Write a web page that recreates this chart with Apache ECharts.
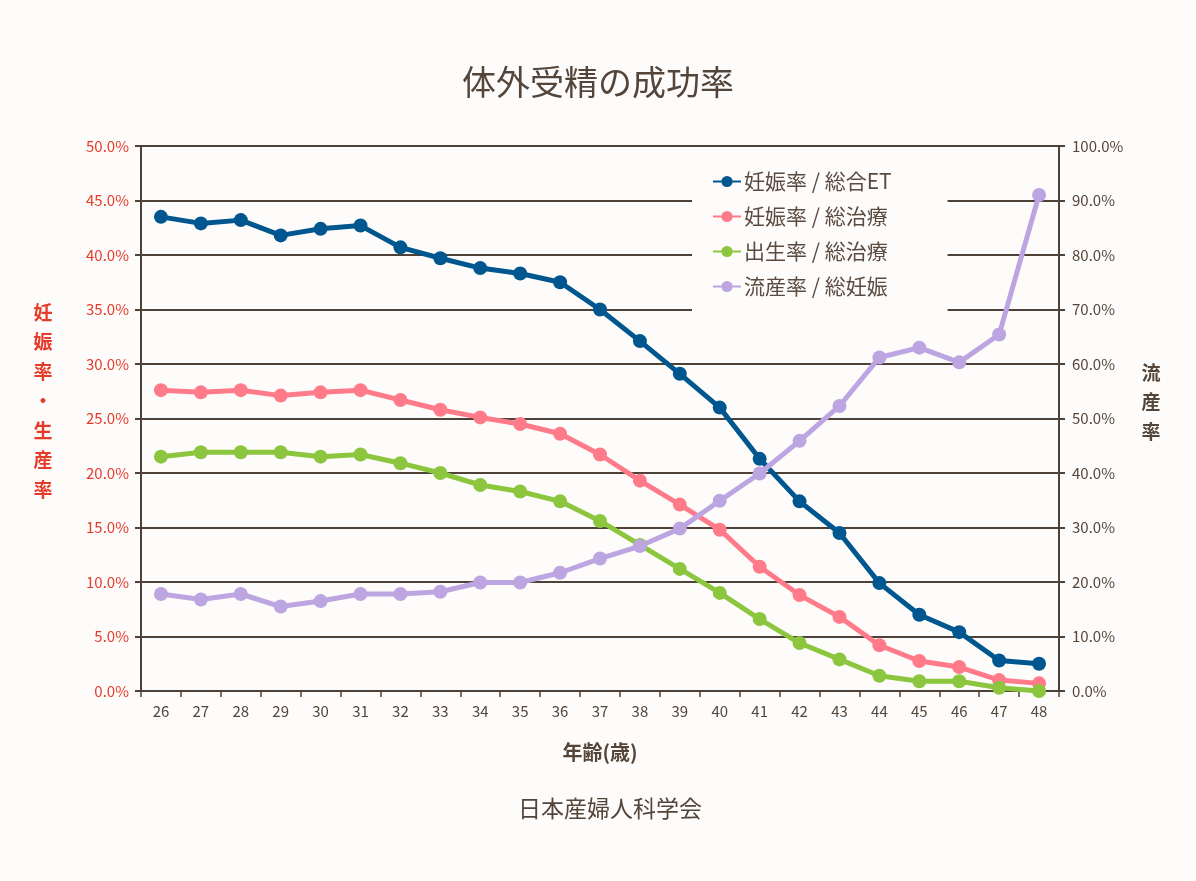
<!DOCTYPE html>
<html>
<head>
<meta charset="utf-8">
<script src="https://cdn.jsdelivr.net/npm/echarts@6/dist/echarts.min.js"></script>
<style>
html,body{margin:0;padding:0;background:#fdfcfa;}
#chart{width:1196px;height:881px;}
</style>
</head>
<body>
<div id="chart"></div>
<script>
const ages = ['26','27','28','29','30','31','32','33','34','35','36','37','38','39','40','41','42','43','44','45','46','47','48'];
const pregnancyPerET = [43.5,42.9,43.2,41.8,42.4,42.7,40.7,39.7,38.8,38.3,37.5,35.0,32.1,29.1,26.0,21.3,17.4,14.5,9.9,7.0,5.4,2.8,2.5];
const pregnancyPerTreatment = [27.6,27.4,27.6,27.1,27.4,27.6,26.7,25.8,25.1,24.5,23.6,21.7,19.3,17.1,14.8,11.4,8.8,6.8,4.2,2.75,2.2,1.0,0.7];
const birthPerTreatment = [21.5,21.9,21.9,21.9,21.5,21.7,20.9,20.0,18.9,18.3,17.4,15.6,13.4,11.2,9.0,6.6,4.4,2.9,1.4,0.9,0.9,0.3,0.0];
const miscarriagePerPregnancy = [17.8,16.8,17.8,15.5,16.5,17.8,17.8,18.2,19.9,19.9,21.7,24.3,26.6,29.8,34.9,39.9,45.9,52.3,61.2,63.0,60.3,65.4,91.0];
const seriesNames = ['妊娠率 / 総合ET','妊娠率 / 総治療','出生率 / 総治療','流産率 / 総妊娠'];
const leftTicks = {min:0, max:50, interval:5};
const rightTicks = {min:0, max:100, interval:10};

const FONT = '"Noto Sans CJK JP", "Noto Sans", sans-serif';
const BROWN = '#54453a';
const RED = '#e63a2a';
const GRID = '#4e4137';
const colors = ['#00578f','#ff7b8a','#8cc63f','#bca5e0'];

const chart = echarts.init(document.getElementById('chart'));
function mk(name, data, color, yIdx){
  return {
    name: name, type:'line', data: data, yAxisIndex: yIdx,
    symbol:'circle', symbolSize:14, showSymbol:true,
    lineStyle:{width:5, color:color}, itemStyle:{color:color},
    emphasis:{disabled:true}, z: 3
  };
}
chart.setOption({
  backgroundColor:'#fdfcfa',
  animation:false,
  textStyle:{fontFamily:FONT},
  title:{
    text:'体外受精の成功率', left:'center', top:60,
    textStyle:{fontFamily:FONT, fontSize:34, fontWeight:'normal', color:BROWN}
  },
  grid:{left:141, right:137, top:146, bottom:190, containLabel:false},
  legend:{
    orient:'vertical', left:692, top:163,
    padding:[8,56,22,20],
    backgroundColor:'#fdfcfa',
    itemWidth:28, itemHeight:14, itemGap:14,
    textStyle:{fontFamily:FONT, fontSize:21, color:'#5a4a40', padding:[0,0,0,-2]},
    data: seriesNames,
    z: 10
  },
  xAxis:{
    type:'category', data: ages, boundaryGap:true,
    axisLine:{lineStyle:{color:GRID, width:2}},
    axisTick:{show:true, interval:0, length:6, lineStyle:{color:GRID, width:1.5}},
    axisLabel:{color:BROWN, fontSize:15, margin:13, interval:0, fontFamily:FONT},
    name:'年齢(歳)', nameLocation:'middle', nameGap:51,
    nameTextStyle:{color:BROWN, fontSize:20, fontWeight:'bold', fontFamily:FONT}
  },
  yAxis:[
    {
      type:'value', min:leftTicks.min, max:leftTicks.max, interval:leftTicks.interval, position:'left',
      axisLine:{show:true, lineStyle:{color:GRID, width:2}},
      axisTick:{show:true, length:6, lineStyle:{color:GRID, width:2}},
      axisLabel:{color:RED, fontSize:15, margin:12, fontFamily:FONT, formatter: v => v.toFixed(1)+'%'},
      splitLine:{show:true, lineStyle:{color:GRID, width:2}}
    },
    {
      type:'value', min:rightTicks.min, max:rightTicks.max, interval:rightTicks.interval, position:'right',
      axisLine:{show:true, lineStyle:{color:GRID, width:2}},
      axisTick:{show:true, length:6, lineStyle:{color:GRID, width:2}},
      axisLabel:{color:BROWN, fontSize:15, margin:13, fontFamily:FONT, formatter: v => v.toFixed(1)+'%'},
      splitLine:{show:false}
    }
  ],
  series:[
    mk(seriesNames[0], pregnancyPerET, colors[0], 0),
    mk(seriesNames[1], pregnancyPerTreatment, colors[1], 0),
    mk(seriesNames[2], birthPerTreatment, colors[2], 0),
    mk(seriesNames[3], miscarriagePerPregnancy, colors[3], 1)
  ],
  graphic:[
    {type:'text', x:43, y:401, style:{text:'妊\n娠\n率\n・\n生\n産\n率', fill:RED, font:'bold 19px '+FONT, lineHeight:29.5, textAlign:'center', textVerticalAlign:'middle'}},
    {type:'text', x:1151, y:402, style:{text:'流\n産\n率', fill:BROWN, font:'bold 19px '+FONT, lineHeight:29.5, textAlign:'center', textVerticalAlign:'middle'}},
    {type:'text', x:610, y:808, style:{text:'日本産婦人科学会', fill:BROWN, font:'23px '+FONT, textAlign:'center', textVerticalAlign:'middle'}}
  ]
});
</script>
</body>
</html>
